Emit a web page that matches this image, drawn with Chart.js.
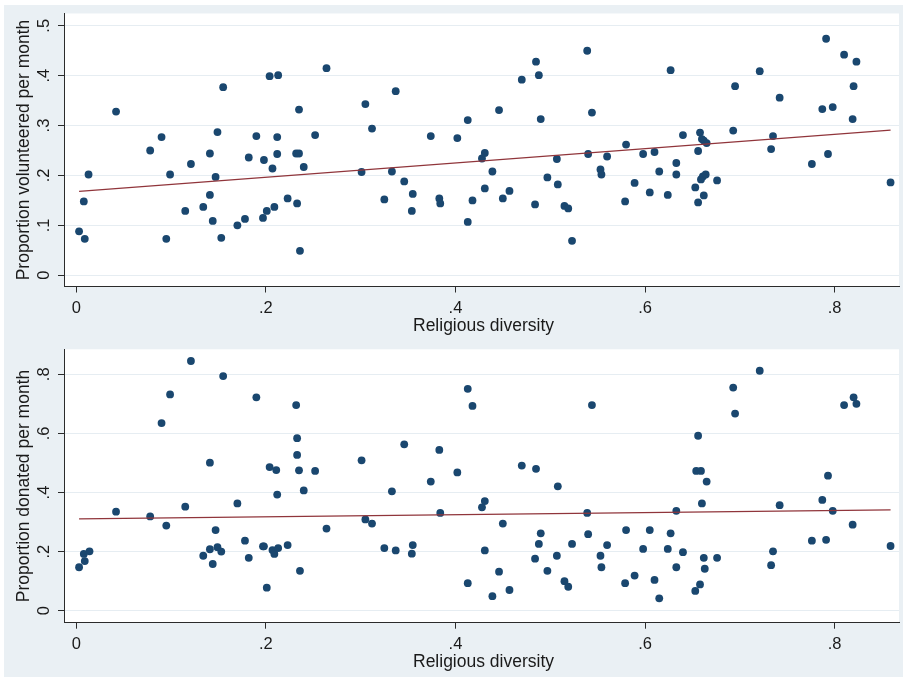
<!DOCTYPE html>
<html>
<head>
<meta charset="utf-8">
<script src="https://cdn.jsdelivr.net/npm/chart.js@4.4.1/dist/chart.umd.min.js"></script>
<style>
  html, body { margin: 0; padding: 0; background: #ffffff; }
  #wrap { position: relative; width: 903px; height: 677px; overflow: hidden; }
  #bg { position: absolute; left: 4px; top: 5px; right: 0; bottom: 0; background: #eaf0f4; }
  canvas { position: absolute; left: 0; }
</style>
</head>
<body>
<div id="wrap">
  <div id="bg"></div>
  <canvas id="volCanvas" width="903" height="340" style="top:0px"></canvas>
  <canvas id="donCanvas" width="903" height="337" style="top:340px"></canvas>
</div>
<script>
// Religious diversity vs. proportion volunteering per month
const volDiversity = [
  0.003, 0.008, 0.009, 0.013, 0.042, 0.078, 0.090, 0.095, 0.099, 0.115,
  0.121, 0.134, 0.141, 0.141, 0.144, 0.147, 0.149, 0.153, 0.155, 0.170,
  0.178, 0.182, 0.190, 0.197, 0.198, 0.201, 0.204, 0.207, 0.209, 0.212,
  0.212, 0.213, 0.223, 0.232, 0.233, 0.235, 0.235, 0.236, 0.240, 0.252,
  0.264, 0.301, 0.305, 0.312, 0.325, 0.333, 0.337, 0.346, 0.354, 0.355,
  0.374, 0.383, 0.384, 0.402, 0.413, 0.413, 0.418, 0.428, 0.431, 0.431,
  0.439, 0.446, 0.450, 0.457, 0.470, 0.484, 0.485, 0.488, 0.490, 0.497,
  0.507, 0.508, 0.515, 0.519, 0.523, 0.539, 0.540, 0.544, 0.553, 0.554,
  0.560, 0.579, 0.580, 0.589, 0.598, 0.605, 0.610, 0.615, 0.624, 0.627,
  0.633, 0.633, 0.640, 0.653, 0.656, 0.656, 0.658, 0.659, 0.660, 0.661,
  0.662, 0.662, 0.664, 0.665, 0.676, 0.693, 0.695, 0.721, 0.733, 0.735,
  0.742, 0.776, 0.787, 0.791, 0.793, 0.798, 0.810, 0.819, 0.820, 0.823,
  0.859
];
const volunteered = [
  0.088, 0.148, 0.073, 0.202, 0.328, 0.250, 0.277, 0.073, 0.202, 0.129,
  0.223, 0.137, 0.244, 0.161, 0.109, 0.197, 0.287, 0.075, 0.377, 0.100,
  0.113, 0.236, 0.279, 0.115, 0.231, 0.129, 0.399, 0.214, 0.137, 0.277,
  0.243, 0.401, 0.154, 0.244, 0.144, 0.244, 0.332, 0.049, 0.217, 0.281,
  0.415, 0.207, 0.343, 0.294, 0.152, 0.208, 0.369, 0.188, 0.129, 0.163,
  0.279, 0.154, 0.144, 0.275, 0.311, 0.107, 0.150, 0.234, 0.245, 0.174,
  0.208, 0.331, 0.154, 0.169, 0.392, 0.142, 0.428, 0.401, 0.313, 0.196,
  0.233, 0.182, 0.139, 0.134, 0.069, 0.450, 0.243, 0.326, 0.212, 0.202,
  0.238, 0.148, 0.262, 0.185, 0.243, 0.166, 0.247, 0.208, 0.161, 0.411,
  0.225, 0.202, 0.281, 0.176, 0.146, 0.249, 0.286, 0.192, 0.273, 0.198,
  0.270, 0.160, 0.202, 0.265, 0.190, 0.290, 0.379, 0.409, 0.253, 0.279,
  0.356, 0.223, 0.333, 0.474, 0.243, 0.337, 0.442, 0.313, 0.379, 0.428,
  0.186
];

// Religious diversity vs. proportion donating per month
const donDiversity = [
  0.003, 0.008, 0.009, 0.014, 0.042, 0.078, 0.090, 0.095, 0.099, 0.115,
  0.121, 0.134, 0.141, 0.141, 0.144, 0.147, 0.149, 0.153, 0.155, 0.170,
  0.178, 0.182, 0.190, 0.197, 0.198, 0.201, 0.204, 0.207, 0.209, 0.211,
  0.212, 0.213, 0.223, 0.232, 0.233, 0.233, 0.235, 0.236, 0.240, 0.252,
  0.264, 0.301, 0.305, 0.312, 0.325, 0.333, 0.337, 0.346, 0.354, 0.355,
  0.374, 0.383, 0.384, 0.402, 0.413, 0.413, 0.418, 0.428, 0.431, 0.431,
  0.439, 0.446, 0.450, 0.457, 0.470, 0.484, 0.485, 0.488, 0.490, 0.497,
  0.507, 0.508, 0.515, 0.519, 0.523, 0.539, 0.540, 0.544, 0.553, 0.554,
  0.560, 0.579, 0.580, 0.589, 0.598, 0.605, 0.610, 0.615, 0.624, 0.627,
  0.633, 0.633, 0.640, 0.653, 0.654, 0.656, 0.658, 0.659, 0.660, 0.662,
  0.663, 0.665, 0.676, 0.693, 0.695, 0.721, 0.733, 0.735, 0.742, 0.776,
  0.787, 0.791, 0.793, 0.798, 0.810, 0.819, 0.820, 0.823, 0.859
];
const donated = [
  0.147, 0.192, 0.168, 0.201, 0.335, 0.319, 0.635, 0.288, 0.732, 0.352,
  0.845, 0.186, 0.501, 0.208, 0.158, 0.273, 0.215, 0.200, 0.794, 0.363,
  0.237, 0.179, 0.722, 0.218, 0.218, 0.078, 0.486, 0.205, 0.192, 0.476,
  0.393, 0.212, 0.222, 0.696, 0.584, 0.527, 0.475, 0.135, 0.407, 0.473,
  0.278, 0.509, 0.309, 0.295, 0.212, 0.404, 0.204, 0.563, 0.193, 0.222,
  0.437, 0.544, 0.331, 0.468, 0.751, 0.093, 0.693, 0.350, 0.371, 0.204,
  0.049, 0.132, 0.295, 0.070, 0.491, 0.176, 0.480, 0.226, 0.262, 0.135,
  0.186, 0.421, 0.100, 0.081, 0.226, 0.331, 0.259, 0.696, 0.186, 0.147,
  0.222, 0.093, 0.273, 0.119, 0.209, 0.273, 0.104, 0.042, 0.209, 0.262,
  0.338, 0.147, 0.198, 0.067, 0.473, 0.592, 0.089, 0.473, 0.363, 0.179,
  0.142, 0.437, 0.179, 0.755, 0.667, 0.812, 0.154, 0.201, 0.357, 0.237,
  0.375, 0.240, 0.457, 0.338, 0.696, 0.291, 0.722, 0.700, 0.219
];

// Linear fit lines (end points over the observed diversity range)
const fitDiversity = [0.003, 0.859];
const volunteeredFit = [0.168, 0.291];
const donatedFit = [0.311, 0.341];

// Axis ticks and their labels
const diversityTicks = [0, 0.2, 0.4, 0.6, 0.8];
const diversityTickLabels = ['0', '.2', '.4', '.6', '.8'];
const volunteeredTicks = [0, 0.1, 0.2, 0.3, 0.4, 0.5];
const volunteeredTickLabels = ['0', '.1', '.2', '.3', '.4', '.5'];
const donatedTicks = [0, 0.2, 0.4, 0.6, 0.8];
const donatedTickLabels = ['0', '.2', '.4', '.6', '.8'];

const xTitle = 'Religious diversity';
const volunteeredTitle = 'Proportion volunteered per month';
const donatedTitle = 'Proportion donated per month';

const MARKER = '#1a476f';
const FIT = '#90353b';
const AXIS = '#2b2b2b';
const GRID = '#e6edf2';
const TEXT = '#1a1a1a';
const TICK_FONT = '16.5px "Liberation Sans", Arial, sans-serif';
const TITLE_FONT = '17.5px "Liberation Sans", Arial, sans-serif';

function toPoints(xs, ys) {
  return xs.map((x, i) => ({ x: x, y: ys[i] }));
}

function makePanel(canvasId, cfg) {
  const canvas = document.getElementById(canvasId);
  const H = canvas.height;

  const axisText = {
    id: 'axisText',
    beforeDraw(chart) {
      const { ctx, chartArea: a } = chart;
      ctx.save();
      ctx.fillStyle = '#ffffff';
      ctx.fillRect(a.left, a.top, a.right - a.left, a.bottom - a.top);
      ctx.restore();
    },
    afterDraw(chart) {
      const { ctx, chartArea: a, scales } = chart;
      ctx.save();
      ctx.fillStyle = TEXT;
      ctx.textAlign = 'center';
      ctx.textBaseline = 'alphabetic';

      ctx.font = TICK_FONT;
      diversityTicks.forEach((v, i) => {
        ctx.fillText(diversityTickLabels[i], scales.x.getPixelForValue(v), a.bottom + 26.5);
      });
      ctx.font = TITLE_FONT;
      ctx.fillText(xTitle, (a.left + a.right) / 2 + 2, a.bottom + 44.5);

      ctx.font = TICK_FONT;
      cfg.yTicks.forEach((v, i) => {
        const py = scales.y.getPixelForValue(v);
        ctx.save();
        ctx.translate(49.4, py);
        ctx.rotate(-Math.PI / 2);
        ctx.fillText(cfg.yTickLabels[i], 0, 0);
        ctx.restore();
      });

      ctx.font = TITLE_FONT;
      ctx.save();
      ctx.translate(28.5, (a.top + a.bottom) / 2);
      ctx.rotate(-Math.PI / 2);
      ctx.fillText(cfg.yTitle, 0, 0);
      ctx.restore();
      ctx.restore();
    }
  };

  return new Chart(canvas, {
    type: 'scatter',
    data: {
      datasets: [
        {
          type: 'line',
          data: toPoints(fitDiversity, cfg.fit),
          borderColor: FIT,
          borderWidth: 1.3,
          pointRadius: 0,
          fill: false,
          order: 0
        },
        {
          data: toPoints(cfg.xs, cfg.ys),
          backgroundColor: MARKER,
          borderColor: MARKER,
          borderWidth: 0,
          pointRadius: 3.9,
          order: 1
        }
      ]
    },
    options: {
      responsive: false,
      animation: false,
      events: [],
      layout: { padding: { top: cfg.top, left: 0, right: 0, bottom: 0 } },
      plugins: { legend: { display: false }, tooltip: { enabled: false } },
      scales: {
        x: {
          type: 'linear',
          min: -0.0129,
          max: 0.8679,
          afterBuildTicks: s => { s.ticks = diversityTicks.map(v => ({ value: v })); },
          afterFit: s => { s.height = H - cfg.bottom; },
          ticks: { display: false },
          grid: { drawOnChartArea: false, drawTicks: true, tickLength: 6, tickColor: AXIS, lineWidth: 1 },
          border: { display: true, color: AXIS, width: 1 }
        },
        y: {
          type: 'linear',
          min: cfg.yMin,
          max: cfg.yMax,
          afterBuildTicks: s => { s.ticks = cfg.yTicks.map(v => ({ value: v })); },
          afterFit: s => { s.width = 64; },
          ticks: { display: false },
          grid: { drawOnChartArea: true, color: GRID, lineWidth: 1, drawTicks: true, tickLength: 6, tickColor: AXIS },
          border: { display: true, color: AXIS, width: 1 }
        }
      }
    },
    plugins: [axisText]
  });
}

makePanel('volCanvas', {
  xs: volDiversity, ys: volunteered, fit: volunteeredFit,
  yMin: -0.0225, yMax: 0.5246,
  yTicks: volunteeredTicks, yTickLabels: volunteeredTickLabels, yTitle: volunteeredTitle,
  top: 13.5, bottom: 286.5
});

makePanel('donCanvas', {
  xs: donDiversity, ys: donated, fit: donatedFit,
  yMin: -0.0406, yMax: 0.8846,
  yTicks: donatedTicks, yTickLabels: donatedTickLabels, yTitle: donatedTitle,
  top: 9.3, bottom: 282.7
});
</script>
</body>
</html>
